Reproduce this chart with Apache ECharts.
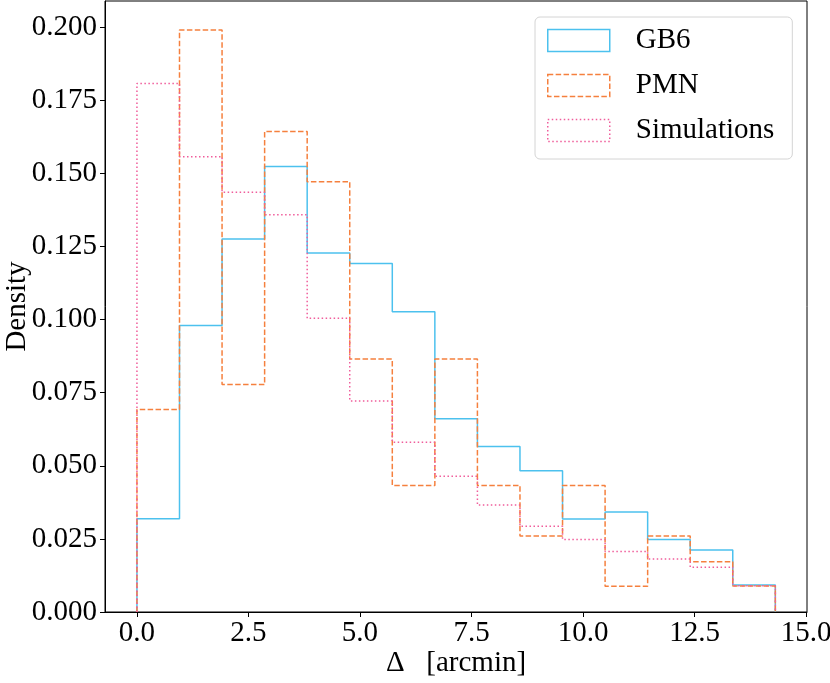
<!DOCTYPE html>
<html>
<head>
<meta charset="utf-8">
<title>Offset density</title>
<script src="https://cdn.jsdelivr.net/npm/echarts@6/dist/echarts.min.js"></script>
<style>
  html, body { margin: 0; padding: 0; background: #fff; }
  #chart { width: 830px; height: 683px; }
</style>
</head>
<body>
<div id="chart"></div>
<script>
// bin edges (arcmin) shared by all three histograms
var binEdges = [0, 0.954, 1.908, 2.862, 3.816, 4.770, 5.724, 6.678, 7.632,
                8.586, 9.540, 10.494, 11.448, 12.402, 13.356, 14.31];

// densities per bin
var gb6 = [0.0319, 0.0980, 0.1276, 0.1524, 0.1228, 0.1192, 0.1027, 0.0661,
           0.0566, 0.0483, 0.0318, 0.0342, 0.0248, 0.0212, 0.0092];
var pmn = [0.0693, 0.1991, 0.0778, 0.1644, 0.1472, 0.0865, 0.0433, 0.0865,
           0.0433, 0.0260, 0.0433, 0.0088, 0.0260, 0.0172, 0.0089];
var sims = [0.1808, 0.1557, 0.1436, 0.1359, 0.1005, 0.0722, 0.0581, 0.0464,
            0.0366, 0.0293, 0.0248, 0.0207, 0.0181, 0.0153, 0.0090];

var xTicks = [0, 2.5, 5, 7.5, 10, 12.5, 15];
var yTicks = [0, 0.025, 0.05, 0.075, 0.1, 0.125, 0.15, 0.175, 0.2];

var FONT = "Liberation Serif";

// outline of a step histogram: up from 0, across each bin, back down to 0
function stepPoints(vals) {
    var pts = [[binEdges[0], 0]];
    vals.forEach(function (v, i) {
        pts.push([binEdges[i], v]);
        pts.push([binEdges[i + 1], v]);
    });
    pts.push([binEdges[binEdges.length - 1], 0]);
    return pts;
}

function histSeries(name, vals, color, type) {
    return {
        name: name,
        type: "line",
        data: stepPoints(vals),
        symbol: "none",
        showSymbol: false,
        lineStyle: { color: color, width: 1.5, type: type },
        itemStyle: { color: color },
        emphasis: { disabled: true },
        animation: false
    };
}

var colors = { gb6: "#4cc1ee", pmn: "#f5803e", sims: "#f05d9b" };
var dashed = [5.5, 2.4];
var dotted = [1.5, 2.5];

var chart = echarts.init(document.getElementById("chart"));

chart.setOption({
    backgroundColor: "#fff",
    animation: false,
    grid: {
        left: 105, right: 23, top: 1, bottom: 71,
        containLabel: false,
        outerBoundsMode: "none",
        show: true, borderColor: "#000", borderWidth: 1, backgroundColor: "transparent"
    },
    xAxis: {
        type: "value",
        min: -0.716, max: 15.02,
        name: "Δ   [arcmin]",
        nameLocation: "middle",
        nameGap: 37,
        nameMoveOverlap: false,
        nameTextStyle: { fontFamily: FONT, fontSize: 29, color: "#000" },
        axisLine: { show: true, onZero: false, lineStyle: { color: "#000", width: 1 } },
        axisTick: { show: true, length: 5, lineStyle: { color: "#000" }, customValues: xTicks },
        axisLabel: {
            fontFamily: FONT, fontSize: 29, color: "#000", margin: 7,
            customValues: xTicks,
            formatter: function (v) { return v.toFixed(1); }
        },
        splitLine: { show: false }
    },
    yAxis: {
        type: "value",
        min: 0, max: 0.209,
        name: "Density",
        nameLocation: "middle",
        nameGap: 73,
        nameMoveOverlap: false,
        nameTextStyle: { fontFamily: FONT, fontSize: 29, color: "#000" },
        axisLine: { show: true, onZero: false, lineStyle: { color: "#000", width: 1 } },
        axisTick: { show: true, length: 5, lineStyle: { color: "#000" }, customValues: yTicks },
        axisLabel: {
            fontFamily: FONT, fontSize: 29, color: "#000", margin: 8,
            customValues: yTicks,
            formatter: function (v) { return v.toFixed(3); }
        },
        splitLine: { show: false }
    },
    legend: {
        left: 535, top: 17,
        orient: "vertical",
        itemWidth: 62, itemHeight: 22,
        itemGap: 16,
        padding: [9, 18, 14, 12],
        backgroundColor: "rgba(255,255,255,0.8)",
        borderColor: "#d4d4d4", borderWidth: 1, borderRadius: 5,
        selectedMode: false,
        textStyle: {
            fontFamily: FONT, fontSize: 29, color: "#000", lineHeight: 28,
            padding: [0, 0, 0, 21]
        },
        data: [
            { name: "GB6", icon: "rect",
              itemStyle: { color: "rgba(0,0,0,0)", borderColor: colors.gb6, borderWidth: 1.5, borderType: "solid" } },
            { name: "PMN", icon: "rect",
              itemStyle: { color: "rgba(0,0,0,0)", borderColor: colors.pmn, borderWidth: 1.5, borderType: dashed } },
            { name: "Simulations", icon: "rect",
              itemStyle: { color: "rgba(0,0,0,0)", borderColor: colors.sims, borderWidth: 1.5, borderType: dotted } }
        ]
    },
    series: [
        histSeries("GB6", gb6, colors.gb6, "solid"),
        histSeries("PMN", pmn, colors.pmn, dashed),
        histSeries("Simulations", sims, colors.sims, dotted)
    ]
});
</script>
</body>
</html>
